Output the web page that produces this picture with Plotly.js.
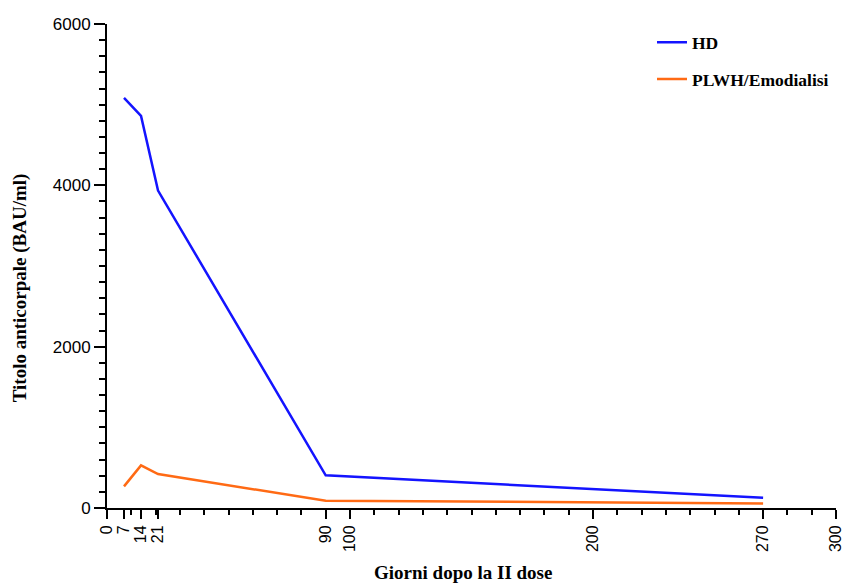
<!DOCTYPE html>
<html>
<head>
<meta charset="utf-8">
<script src="https://cdn.plot.ly/plotly-3.0.1.min.js"></script>
<style>html,body{margin:0;padding:0;background:#fff;}#chart{width:844px;height:583px;}</style>
</head>
<body>
<div id="chart"></div>
<script>
const days = [7, 14, 21, 90, 270];
const hdValues = [5085, 4860, 3935, 405, 128];
const plwhValues = [268, 528, 421, 90, 57];
const seriesNames = ["HD", "PLWH/Emodialisi"];
const xTickVals = [0, 7, 14, 21, 90, 100, 200, 270, 300];
const xTickText = ["0", "7", "14", "21", "90", "100", "200", "270", "300"];
const yTickVals = [0, 2000, 4000, 6000];
const xTitle = "Giorni dopo la II dose";
const yTitle = "Titolo anticorpale (BAU/ml)";

const serif = "Liberation Serif, Times New Roman, serif";
const sans = "Liberation Sans, Arial, sans-serif";

const traces = [
  {x: days, y: hdValues, name: seriesNames[0], type: "scatter", mode: "lines",
   line: {color: "#1414ff", width: 2.5}, legendgroup: "a"},
  {x: days, y: plwhValues, name: seriesNames[1], type: "scatter", mode: "lines",
   line: {color: "#ff6a14", width: 2.5}, legendgroup: "b"}
];

const layout = {
  width: 844, height: 583,
  margin: {l: 107, r: 8, t: 24, b: 75, autoexpand: false},
  paper_bgcolor: "#fff", plot_bgcolor: "#fff",
  showlegend: true,
  legend: {x: 0.7476, xanchor: "left", y: 0.999, yanchor: "top",
    font: {family: serif, size: 17.5, color: "#000", weight: "bold"},
    tracegroupgap: 11, bgcolor: "rgba(0,0,0,0)"},
  xaxis: {
    range: [0, 300], showgrid: false, zeroline: false,
    showline: true, linecolor: "#000", linewidth: 2,
    tickmode: "array", tickvals: xTickVals, ticktext: xTickText,
    ticks: "outside", ticklen: 9, tickwidth: 2, tickcolor: "#000",
    tickangle: -90, ticklabeloverflow: "allow",
    tickfont: {family: sans, size: 16, color: "#000"},
    minor: {dtick: 10, tick0: 0, ticks: "outside", ticklen: 5, tickwidth: 2, tickcolor: "#000", showgrid: false}
  },
  yaxis: {
    range: [0, 6000], showgrid: false, zeroline: false,
    showline: true, linecolor: "#000", linewidth: 2,
    tickmode: "array", tickvals: yTickVals, ticklabeloverflow: "allow",
    ticks: "outside", ticklen: 11, tickwidth: 2, tickcolor: "#000",
    tickfont: {family: sans, size: 17, color: "#000"},
    minor: {dtick: 200, tick0: 0, ticks: "outside", ticklen: 6, tickwidth: 2, tickcolor: "#000", showgrid: false}
  },
  annotations: [
    {text: xTitle, xref: "paper", yref: "paper", x: 0.488, y: -0.134,
     xanchor: "center", yanchor: "middle", showarrow: false,
     font: {family: serif, size: 19, color: "#000", weight: "bold"}},
    {text: yTitle, xref: "paper", yref: "paper", x: -0.119, y: 0.4545,
     xanchor: "center", yanchor: "middle", showarrow: false, textangle: -90,
     font: {family: serif, size: 19, color: "#000", weight: "bold"}}
  ]
};

Plotly.newPlot("chart", traces, layout, {displayModeBar: false, staticPlot: true});
</script>
</body>
</html>
